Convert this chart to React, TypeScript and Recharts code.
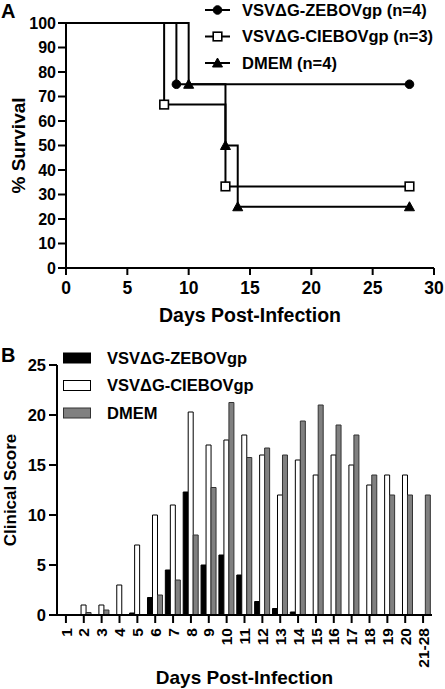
import React from 'react';
import { LineChart, Line, XAxis, YAxis, BarChart, Bar, Legend } from 'recharts';

const FONT = '"Liberation Sans", Arial, Helvetica, sans-serif';

// ---- Panel A: survival ----
const zebovDays = [0, 9, 28];
const zebovSurvival = [100, 75, 75];
const ciebovDays = [0, 8, 13, 28];
const ciebovSurvival = [100, 66.7, 33.3, 33.3];
const dmemDays = [0, 10, 13, 14, 28];
const dmemSurvival = [100, 75, 50, 25, 25];
const survivalNames = ['VSVΔG-ZEBOVgp (n=4)', 'VSVΔG-CIEBOVgp (n=3)', 'DMEM (n=4)'];
const survivalXTicks = [0, 5, 10, 15, 20, 25, 30];
const survivalYTicks = [0, 10, 20, 30, 40, 50, 60, 70, 80, 90, 100];

// ---- Panel B: clinical score ----
const dayLabels = ['1', '2', '3', '4', '5', '6', '7', '8', '9', '10', '11', '12', '13', '14', '15', '16', '17', '18', '19', '20', '21-28'];
const zebovScore = [0, 0, 0, 0, 0.2, 1.75, 4.5, 12.3, 5.0, 6.0, 4.0, 1.35, 0.65, 0.3, 0, 0, 0, 0, 0, 0, 0];
const ciebovScore = [0, 1.0, 1.0, 3.0, 7.0, 10.0, 11.0, 20.3, 17.0, 17.5, 18.0, 16.0, 12.0, 15.5, 14.0, 16.0, 15.0, 13.0, 14.0, 14.0, 0];
const dmemScore = [0, 0.25, 0.5, 0, 0, 2.0, 3.5, 8.0, 12.75, 21.25, 15.75, 16.7, 16.0, 19.4, 21.0, 19.0, 18.0, 14.0, 12.0, 12.0, 12.0];
const scoreNames = ['VSVΔG-ZEBOVgp', 'VSVΔG-CIEBOVgp', 'DMEM'];
const scoreTicks = [0, 5, 10, 15, 20, 25];

const mk = (days: number[], vals: number[]) => days.map((d, i) => ({ day: d, surv: vals[i] }));
const zebovData = mk(zebovDays, zebovSurvival);
const ciebovData = mk(ciebovDays, ciebovSurvival);
const dmemData = mk(dmemDays, dmemSurvival);

const barData = dayLabels.map((d, i) => ({
  day: d,
  zebov: zebovScore[i],
  ciebov: ciebovScore[i],
  dmem: dmemScore[i],
}));

type Shape = 'circle' | 'square' | 'triangle';

const Marker = ({ shape, cx, cy }: { shape: Shape; cx: number; cy: number }) => {
  if (shape === 'circle') return <circle cx={cx} cy={cy} r={4.3} fill="#000" stroke="#000" />;
  if (shape === 'square')
    return <rect x={cx - 4.3} y={cy - 4.3} width={8.6} height={8.6} fill="#fff" stroke="#000" strokeWidth={1.6} />;
  return <path d={`M${cx},${cy - 5} L${cx + 5},${cy + 4} L${cx - 5},${cy + 4} Z`} fill="#000" stroke="#000" />;
};

const makeDot = (shape: Shape) => (p: any) => {
  const { cx, cy, index } = p;
  if (index === 0 || cx == null) return <g key={`d-${shape}-${index}`} />;
  return (
    <g key={`d-${shape}-${index}`}>
      <Marker shape={shape} cx={cx} cy={cy} />
    </g>
  );
};

const textStyle = { fontFamily: FONT, fontWeight: 700, fill: '#000' } as any;

const SurvivalLegend = () => {
  const shapes: Shape[] = ['circle', 'square', 'triangle'];
  return (
    <svg width={240} height={76} style={{ display: 'block', overflow: 'visible' }}>
      {survivalNames.map((n, i) => {
        const y = 10 + i * 26.5;
        return (
          <g key={n}>
            <line x1={0} x2={25} y1={y} y2={y} stroke="#000" strokeWidth={2} />
            <Marker shape={shapes[i]} cx={12.5} cy={y} />
            <text x={37} y={y} dy="0.36em" fontSize={16.5} style={textStyle}>
              {n}
            </text>
          </g>
        );
      })}
    </svg>
  );
};

const ScoreLegend = () => {
  const fills = ['#000', '#fff', '#808080'];
  const strokes = ['#000', '#000', '#333'];
  return (
    <svg width={240} height={80} style={{ display: 'block', overflow: 'visible' }}>
      {scoreNames.map((n, i) => {
        const y = 12 + i * 27.5;
        return (
          <g key={n}>
            <rect x={0.5} y={y - 5} width={27} height={10} fill={fills[i]} stroke={strokes[i]} strokeWidth={1} />
            <text x={44} y={y} dy="0.36em" fontSize={16.5} style={textStyle}>
              {n}
            </text>
          </g>
        );
      })}
    </svg>
  );
};

const RotatedTick = (props: any) => {
  const { x, y, payload } = props;
  return (
    <text
      x={x}
      y={y}
      transform={`rotate(-90 ${x} ${y})`}
      textAnchor="end"
      dy="0.36em"
      fontSize={15.5}
      style={textStyle}
    >
      {payload.value}
    </text>
  );
};

const axisProps = {
  axisLine: { stroke: '#000', strokeWidth: 2 },
  tickLine: { stroke: '#000', strokeWidth: 2 },
};

export default function App() {
  return (
    <div style={{ position: 'absolute', left: 0, top: 0, width: 445, height: 689, background: '#fff', fontFamily: FONT }}>
      <div style={{ position: 'absolute', left: 1, top: 0, fontSize: 20, fontWeight: 700, lineHeight: '22px' }}>A</div>
      <div style={{ position: 'absolute', left: 1, top: 344, fontSize: 20, fontWeight: 700, lineHeight: '22px' }}>B</div>

      <div style={{ position: 'absolute', left: 0, top: 0 }}>
        <LineChart width={445} height={330} margin={{ top: 23, right: 11, left: 0, bottom: 0 }}>
          <XAxis
            type="number"
            dataKey="day"
            domain={[0, 30]}
            ticks={survivalXTicks}
            allowDuplicatedCategory={false}
            height={62}
            tickSize={7}
            tickMargin={7}
            tick={{ fontSize: 17.5, fontFamily: FONT, fontWeight: 700, fill: '#000' }}
            {...axisProps}
            label={{
              content: ({ viewBox }: any) => (
                <text
                  x={viewBox.x + viewBox.width / 2}
                  y={viewBox.y + 47}
                  dy="0.36em"
                  textAnchor="middle"
                  fontSize={19.5}
                  style={textStyle}
                >
                  Days Post-Infection
                </text>
              ),
            }}
          />
          <YAxis
            type="number"
            domain={[0, 100]}
            ticks={survivalYTicks}
            width={66}
            tickSize={8}
            tickMargin={2}
            interval={0}
            tick={{ fontSize: 16, fontFamily: FONT, fontWeight: 700, fill: '#000' }}
            {...axisProps}
            label={{
              content: ({ viewBox }: any) => {
                const cx = 18;
                const cy = viewBox.y + viewBox.height / 2;
                return (
                  <text
                    x={cx}
                    y={cy}
                    transform={`rotate(-90 ${cx} ${cy})`}
                    textAnchor="middle"
                    dy="0.36em"
                    fontSize={19}
                    style={textStyle}
                  >
                    % Survival
                  </text>
                );
              },
            }}
          />
          <Legend
            layout="vertical"
            align="center"
            verticalAlign="middle"
            wrapperStyle={{ left: 205, top: 0, width: 240, height: 76 }}
            content={() => <SurvivalLegend />}
          />
          <Line data={ciebovData} dataKey="surv" name={survivalNames[1]} type="stepAfter" stroke="#000" strokeWidth={2} dot={makeDot('square')} isAnimationActive={false} activeDot={false} />
          <Line data={dmemData} dataKey="surv" name={survivalNames[2]} type="stepAfter" stroke="#000" strokeWidth={2} dot={makeDot('triangle')} isAnimationActive={false} activeDot={false} />
          <Line data={zebovData} dataKey="surv" name={survivalNames[0]} type="stepAfter" stroke="#000" strokeWidth={2} dot={makeDot('circle')} isAnimationActive={false} activeDot={false} />
        </LineChart>
      </div>

      <div style={{ position: 'absolute', left: 0, top: 340 }}>
        <BarChart
          width={445}
          height={349}
          data={barData}
          margin={{ top: 25, right: 13, left: 0, bottom: 0 }}
          barCategoryGap={1.2}
          barGap={0}
        >
          <XAxis
            dataKey="day"
            interval={0}
            height={74}
            tickSize={8}
            tickMargin={5}
            tick={<RotatedTick />}
            {...axisProps}
            label={{
              content: ({ viewBox }: any) => (
                <text
                  x={viewBox.x + viewBox.width / 2}
                  y={viewBox.y + 62}
                  dy="0.36em"
                  textAnchor="middle"
                  fontSize={19}
                  style={textStyle}
                >
                  Days Post-Infection
                </text>
              ),
            }}
          />
          <YAxis
            type="number"
            domain={[0, 25]}
            ticks={scoreTicks}
            width={57}
            tickSize={8}
            tickMargin={3}
            interval={0}
            tick={{ fontSize: 16.5, fontFamily: FONT, fontWeight: 700, fill: '#000' }}
            {...axisProps}
            label={{
              content: ({ viewBox }: any) => {
                const cx = 10;
                const cy = viewBox.y + viewBox.height / 2;
                return (
                  <text
                    x={cx}
                    y={cy}
                    transform={`rotate(-90 ${cx} ${cy})`}
                    textAnchor="middle"
                    dy="0.36em"
                    fontSize={17}
                    style={textStyle}
                  >
                    Clinical Score
                  </text>
                );
              },
            }}
          />
          <Legend
            layout="vertical"
            align="center"
            verticalAlign="middle"
            wrapperStyle={{ left: 63, top: 6, width: 240, height: 80 }}
            content={() => <ScoreLegend />}
          />
          <Bar dataKey="zebov" name={scoreNames[0]} fill="#000" stroke="#000" strokeWidth={1} isAnimationActive={false} />
          <Bar dataKey="ciebov" name={scoreNames[1]} fill="#fff" stroke="#000" strokeWidth={1} isAnimationActive={false} />
          <Bar dataKey="dmem" name={scoreNames[2]} fill="#808080" stroke="#333" strokeWidth={1} isAnimationActive={false} />
        </BarChart>
      </div>
    </div>
  );
}
